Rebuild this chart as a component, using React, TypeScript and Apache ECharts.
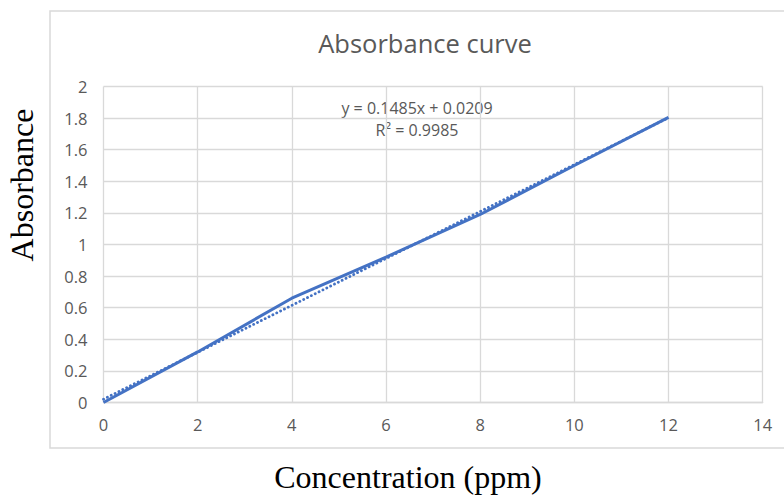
import React, { useEffect, useRef } from "react";
import * as echarts from "echarts";

const concentration = [0, 2, 4, 6, 8, 10, 12];
const absorbance = [0, 0.32, 0.66, 0.92, 1.19, 1.5, 1.805];
const trendX = [0, 12];
const trendY = [0.0209, 1.8029];
const equationLines = ["y = 0.1485x + 0.0209", "R² = 0.9985"];
const chartTitle = "Absorbance curve";
const xTitle = "Concentration (ppm)";
const yTitle = "Absorbance";

const SANS = '"Open Sans", "Noto Sans", sans-serif';
const SERIF = '"Liberation Serif", "DejaVu Serif", serif';
const TEXT = "#595959";
const GRID = "#d9d9d9";
const BLUE = "#4472C4";

export default function App() {
  const ref = useRef<HTMLDivElement>(null);
  useEffect(() => {
    if (!ref.current) return;
    const chart = echarts.init(ref.current, undefined, { renderer: "svg" });
    chart.setOption({
      animation: false,
      backgroundColor: "#ffffff",
      grid: { left: 103.5, right: 21.3, top: 86.5, bottom: 96.5, containLabel: false },
      xAxis: {
        type: "value",
        min: 0,
        max: 14,
        interval: 2,
        axisLine: { show: true, lineStyle: { color: GRID, width: 1.3 } },
        axisTick: { show: false },
        axisLabel: { color: TEXT, fontFamily: SANS, fontSize: 16.5, margin: 13 },
        splitLine: { show: true, lineStyle: { color: GRID, width: 1.3 } },
      },
      yAxis: {
        type: "value",
        min: 0,
        max: 2,
        interval: 0.2,
        axisLine: { show: false },
        axisTick: { show: false },
        axisLabel: { color: TEXT, fontFamily: SANS, fontSize: 16.5, margin: 16 },
        splitLine: { show: true, lineStyle: { color: GRID, width: 1.3 } },
      },
      series: [
        {
          type: "line",
          name: "Linear trend",
          data: trendX.map((x, i) => [x, trendY[i]]),
          showSymbol: false,
          lineStyle: { color: BLUE, width: 2.8, type: [0.1, 4.2], cap: "round" },
          z: 2,
        },
        {
          type: "line",
          name: "Absorbance",
          data: concentration.map((x, i) => [x, absorbance[i]]),
          showSymbol: false,
          lineStyle: { color: BLUE, width: 3 },
          z: 3,
        },
      ],
      graphic: [
        {
          type: "rect",
          shape: { x: 50, y: 11, width: 760, height: 437 },
          style: { fill: "none", stroke: GRID, lineWidth: 1.5 },
          z: -10,
        },
        {
          type: "text",
          x: 425,
          y: 43,
          style: {
            text: chartTitle,
            fill: TEXT,
            font: `25.5px ${SANS}`,
            textAlign: "center",
            textVerticalAlign: "middle",
          },
        },
        {
          type: "text",
          x: 417,
          y: 108,
          style: {
            text: equationLines[0],
            fill: TEXT,
            font: `16px ${SANS}`,
            textAlign: "center",
            textVerticalAlign: "middle",
          },
        },
        {
          type: "text",
          x: 417,
          y: 130,
          style: {
            text: equationLines[1],
            fill: TEXT,
            font: `16px ${SANS}`,
            textAlign: "center",
            textVerticalAlign: "middle",
          },
        },
        {
          type: "text",
          x: 408,
          y: 477,
          style: {
            text: xTitle,
            fill: "#000000",
            font: `32px ${SERIF}`,
            textAlign: "center",
            textVerticalAlign: "middle",
          },
        },
        {
          type: "text",
          x: 22,
          y: 185,
          rotation: Math.PI / 2,
          style: {
            text: yTitle,
            fill: "#000000",
            font: `32px ${SERIF}`,
            textAlign: "center",
            textVerticalAlign: "middle",
          },
        },
      ],
    });
    return () => chart.dispose();
  }, []);
  return (
    <div
      ref={ref}
      style={{ position: "absolute", left: 0, top: 0, width: 784, height: 499 }}
    />
  );
}
